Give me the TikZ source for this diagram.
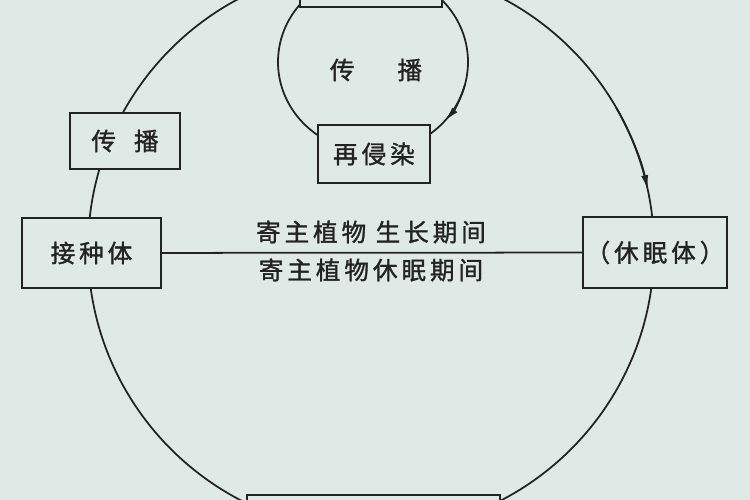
\documentclass[tikz,border=0pt]{standalone}
\usepackage{fontspec}
\newfontfamily\cjk[LetterSpace=16, FakeBold=1.3]{Noto Sans CJK SC}
\usetikzlibrary{arrows.meta, positioning}
\definecolor{paper}{RGB}{223,233,230}
\definecolor{ink}{RGB}{35,35,35}

\begin{document}
\begin{tikzpicture}[>={Latex[length=3mm,width=1.4mm]}, line width=1pt, color=ink]
\tikzstyle{box} = [rectangle, draw, line width=1.4pt, fill=paper, inner sep=0pt, font=\cjk\fontsize{14}{16}\selectfont]
\tikzstyle{tag} = [inner sep=1pt, font=\cjk\fontsize{14}{16}\selectfont]
\tikzstyle{arrow} = [->, line width=1pt]

\useasboundingbox (0,0) rectangle (15,10);
\fill[paper] (0,0) rectangle (15,10);
\clip (0,0) rectangle (15,10);

% big cycle and the secondary loop
\coordinate (cycle) at (7.42,5.02);
\coordinate (loop) at (7.46,8.76);
\draw (cycle) circle[radius=5.66];
\draw (loop) ellipse[x radius=1.9, y radius=1.8];
\draw[arrow] (cycle) ++(30:5.66) arc[start angle=30, end angle=12, radius=5.66];
\draw[arrow] (loop) ++(-15:1.9 and 1.8) arc[start angle=-15, end angle=-41, x radius=1.9, y radius=1.8];

% boxes on the cycle
\node[box, minimum width=2.84cm, minimum height=0.74cm] (topbox) at (7.42,10.23) {};
\node[box, minimum width=5.06cm, minimum height=0.7cm] (botbox) at (7.47,-0.25) {};
\node[box, minimum width=2.2cm, minimum height=1.12cm] (spread) at (2.5,7.18) {传\hspace{0.36cm}播};
\node[box, minimum width=2.78cm, minimum height=1.4cm] (inoculum) at (1.83,4.94) {接种体};
\node[box, minimum width=2.88cm, minimum height=1.42cm] (dormant) at (13.1,4.95) {（休眠体）};
\node[box, minimum width=2.24cm, minimum height=1.16cm] (reinfect) at (7.48,6.92) {再侵染};
\node[tag] (inspread) at (7.52,8.6) {传\hspace{0.86cm}播};

% host periods
\draw (inoculum) -- (dormant);
\node[tag] (grow) at (7.42,5.36) {寄主植物 生长期间};
\node[tag] (rest) at (7.42,4.6) {寄主植物休眠期间};
\end{tikzpicture}
\end{document}
